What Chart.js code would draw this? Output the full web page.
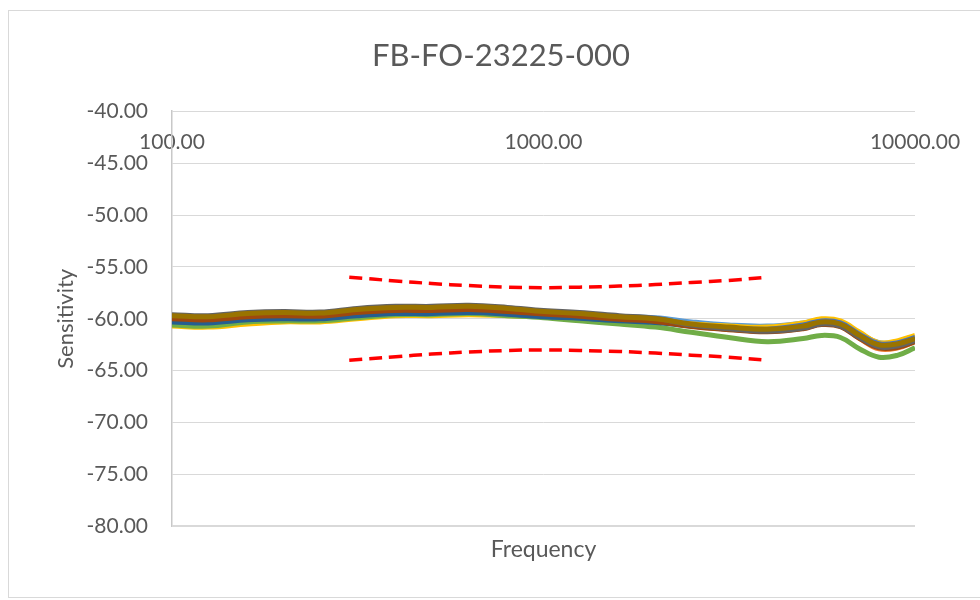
<!DOCTYPE html>
<html>
<head>
<meta charset="utf-8">
<script src="https://cdn.jsdelivr.net/npm/chart.js@4.4.1/dist/chart.umd.min.js"></script>
<style>
  body { margin: 0; overflow: hidden; background: #fff; }
  #box {
    position: absolute; left: 8px; top: 10px;
    width: 984px; height: 586px;
    border: 1px solid #d9d9d9;
  }
</style>
</head>
<body>
<div id="box"><canvas id="sens-chart"></canvas></div>
<script>
  const freqs = [100, 125, 160, 200, 250, 315, 400, 500, 630, 800, 1000, 1250, 1600, 2000, 2500, 3150, 4000, 5000, 5600, 6300, 7100, 8000, 9000, 10000];

  const xTicks = [100, 1000, 10000];
  const yTicks = [-80, -75, -70, -65, -60, -55, -50, -45, -40];

  // measured units, Excel default palette order
  const s1 = [-60.3, -60.3, -60.0, -59.8, -59.8, -59.5, -59.3, -59.3, -59.2, -59.3, -59.5, -59.6, -59.8, -59.9, -60.3, -60.6, -60.7, -60.4, -60.1, -60.3, -61.4, -62.3, -62.2, -61.8];
  const s2 = [-60.0, -60.1, -59.8, -59.7, -59.7, -59.4, -59.2, -59.2, -59.1, -59.3, -59.5, -59.7, -60.0, -60.2, -60.7, -61.0, -61.2, -60.9, -60.5, -60.7, -61.9, -62.9, -62.8, -62.2];
  const s3 = [-60.2, -60.2, -59.8, -59.6, -59.7, -59.4, -59.2, -59.3, -59.3, -59.4, -59.6, -59.8, -60.0, -60.2, -60.5, -60.8, -61.0, -60.7, -60.3, -60.5, -61.6, -62.5, -62.4, -61.9];
  const s4 = [-60.7, -60.8, -60.5, -60.3, -60.3, -60.0, -59.7, -59.7, -59.6, -59.7, -59.8, -59.9, -60.1, -60.3, -60.5, -60.7, -60.8, -60.4, -60.0, -60.2, -61.3, -62.3, -62.1, -61.6];
  const s5 = [-60.2, -60.3, -60.0, -59.9, -59.95, -59.6, -59.4, -59.4, -59.3, -59.5, -59.7, -59.9, -60.1, -60.3, -60.6, -60.9, -61.0, -60.6, -60.2, -60.4, -61.5, -62.4, -62.3, -61.8];
  const s6 = [-60.6, -60.7, -60.3, -60.2, -60.2, -59.9, -59.6, -59.6, -59.5, -59.7, -59.9, -60.2, -60.5, -60.8, -61.3, -61.8, -62.2, -61.9, -61.6, -61.8, -62.9, -63.7, -63.5, -62.8];
  const s7 = [-60.3, -60.4, -60.1, -60.0, -60.0, -59.7, -59.5, -59.5, -59.4, -59.55, -59.8, -59.95, -60.2, -60.35, -60.7, -61.0, -61.15, -60.8, -60.4, -60.6, -61.7, -62.6, -62.5, -62.0];
  const s8 = [-60.0, -60.1, -59.8, -59.7, -59.75, -59.4, -59.2, -59.2, -59.1, -59.3, -59.55, -59.75, -60.05, -60.25, -60.75, -61.05, -61.25, -60.95, -60.55, -60.75, -61.9, -62.8, -62.75, -62.2];
  const s9 = [-59.6, -59.7, -59.4, -59.3, -59.35, -59.0, -58.8, -58.8, -58.7, -58.9, -59.2, -59.4, -59.7, -59.95, -60.6, -60.95, -61.2, -60.9, -60.5, -60.7, -61.8, -62.7, -62.6, -62.1];
  const s10 = [-59.7, -59.8, -59.5, -59.4, -59.45, -59.1, -58.9, -58.9, -58.8, -59.0, -59.3, -59.5, -59.8, -60.0, -60.5, -60.8, -61.0, -60.7, -60.3, -60.5, -61.6, -62.5, -62.4, -61.9];

  // tolerance limits
  const limitFreqs = [300, 400, 500, 630, 800, 1000, 1250, 1600, 2000, 2500, 3150, 4000];
  const upperLimit = [-56.0, -56.35, -56.6, -56.8, -56.95, -57.0, -56.95, -56.85, -56.7, -56.5, -56.3, -56.0];
  const lowerLimit = [-64.0, -63.65, -63.4, -63.2, -63.05, -63.0, -63.05, -63.15, -63.3, -63.5, -63.7, -64.0];

  const series = [s1, s2, s3, s4, s5, s6, s7, s8, s9, s10];
  const colors = ['#5B9BD5', '#ED7D31', '#A5A5A5', '#FFC000', '#4472C4', '#70AD47', '#255E91', '#9E480E', '#636363', '#997300'];

  const toPoints = (xs, ys) => xs.map((x, i) => ({x: x, y: ys[i]}));

  const datasets = series.map((s, i) => ({
    label: 'S' + (i + 1),
    data: toPoints(freqs, s),
    borderColor: colors[i],
    borderWidth: 5,
    pointRadius: 0,
    tension: 0.4,
    order: series.length - i,
  }));

  [upperLimit, lowerLimit].forEach((lim, i) => {
    datasets.push({
      label: i ? 'Lower' : 'Upper',
      data: toPoints(limitFreqs, lim),
      borderColor: '#FF0000',
      borderWidth: 3.5,
      borderDash: [13, 7],
      pointRadius: 0,
      tension: 0.4,
      order: 0,
    });
  });

  Chart.defaults.font.family = 'Lato';
  Chart.defaults.color = '#595959';

  const config = {
    type: 'line',
    data: { datasets: datasets },
    options: {
      responsive: true,
      maintainAspectRatio: false,
      animation: false,
      layout: {
        padding: { top: 10, left: 40, right: 40, bottom: 30 }
      },
      scales: {
        x: {
          type: 'logarithmic',
          min: 100,
          max: 10000,
          position: { y: -40 },
          afterBuildTicks: (scale) => {
            scale.ticks = xTicks.map(v => ({ value: v }));
          },
          grid: { display: false, drawTicks: false },
          border: { display: false },
          ticks: {
            font: { size: 21 },
            padding: 18,
            maxRotation: 0,
            autoSkip: false,
            callback: (v) => Number(v).toFixed(2),
          },
        },
        x2: {
          type: 'linear',
          position: 'bottom',
          min: 0,
          max: 1,
          grid: { display: false, drawTicks: false },
          border: { display: false },
          ticks: { display: false },
          title: {
            display: true,
            text: 'Frequency',
            font: { size: 23 },
            padding: { top: 9, bottom: 4 },
          },
        },
        y: {
          min: -80,
          max: -40,
          afterBuildTicks: (scale) => {
            scale.ticks = yTicks.map(v => ({ value: v }));
          },
          afterFit: (scale) => { scale.width = 123; },
          grid: {
            color: '#d9d9d9',
            lineWidth: (ctx) => ctx.tick && ctx.tick.value === -80 ? 2 : 1,
            drawTicks: false,
          },
          border: { display: true, color: '#c8c8c8', width: 1.5 },
          ticks: {
            font: { size: 21 },
            padding: 24,
            callback: (v) => Number(v).toFixed(2),
          },
          title: {
            display: true,
            text: 'Sensitivity',
            font: { size: 22 },
            padding: { top: 4, bottom: 6 },
          },
        },
        // empty right-hand axis only reserves space so the title stays centred
        yR: {
          type: 'linear',
          position: 'right',
          min: 0,
          max: 1,
          afterFit: (scale) => { scale.width = 38; },
          grid: { display: false, drawTicks: false },
          border: { display: false },
          ticks: { display: false },
        },
      },
      plugins: {
        legend: { display: false },
        tooltip: { enabled: false },
        title: {
          display: true,
          text: 'FB-FO-23225-000',
          font: { size: 31, weight: 'normal' },
          color: '#595959',
          padding: { top: 16, bottom: 37 },
        },
      },
    },
  };

  const sensChart = new Chart(document.getElementById('sens-chart'), config);
</script>
</body>
</html>
